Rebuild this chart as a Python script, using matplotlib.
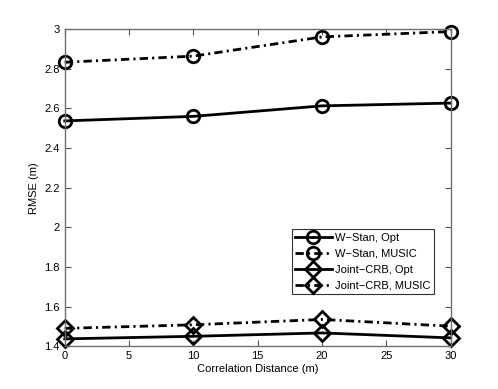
import matplotlib
matplotlib.use("Agg")
import matplotlib.pyplot as plt
from matplotlib.lines import Line2D

plt.rcParams['font.family'] = ['Liberation Sans', 'DejaVu Sans']
plt.rcParams['lines.dashdot_pattern'] = [6, 3, 1.5, 3]
plt.rcParams['lines.scale_dashes'] = False

x = [0, 10, 20, 30]
wstan_opt = [2.537, 2.560, 2.613, 2.627]
wstan_music = [2.833, 2.864, 2.961, 2.988]
joint_opt = [1.437, 1.450, 1.467, 1.442]
joint_music = [1.490, 1.508, 1.535, 1.501]
labels = ['W\u2212Stan, Opt', 'W\u2212Stan, MUSIC', 'Joint\u2212CRB, Opt', 'Joint\u2212CRB, MUSIC']

fig = plt.figure(figsize=(4.98, 3.89), dpi=100)
ax = fig.add_axes([0.13, 0.11, 0.775, 0.815])

kw = dict(color='black', linewidth=2, markerfacecolor='none', markeredgewidth=2)
series = [(wstan_opt, '-', 'o', 9), (wstan_music, '-.', 'o', 9),
          (joint_opt, '-', 'D', 8), (joint_music, '-.', 'D', 8)]
handles = []
for (ys, ls, mk, ms), lab in zip(series, labels):
    ax.plot(x, ys, linestyle=ls, marker=mk, markersize=ms, clip_on=False, **kw)
    handles.append(Line2D([], [], linestyle=ls, marker=mk, markersize=ms, **kw))

ax.set_xlim(0, 30)
ax.set_ylim(1.4, 3.0)
ax.set_xticks([0, 5, 10, 15, 20, 25, 30])
ax.set_yticks([1.4, 1.6, 1.8, 2.0, 2.2, 2.4, 2.6, 2.8, 3.0])
ax.set_yticklabels(['1.4', '1.6', '1.8', '2', '2.2', '2.4', '2.6', '2.8', '3'])
ax.tick_params(direction='in', top=True, right=True, labelsize=8, length=4, color='#555555')
for s in ax.spines.values():
    s.set_color('#6e6e6e')
    s.set_linewidth(1.0)
ax.set_xlabel('Correlation Distance (m)', fontsize=8, labelpad=2)
ax.set_ylabel('RMSE (m)', fontsize=8)

leg = ax.legend(handles, labels, loc='upper left', bbox_to_anchor=(0.588, 0.369), fontsize=8,
                frameon=True, fancybox=False, edgecolor='black', handlelength=3.3, borderpad=0.3,
                labelspacing=0.55, handletextpad=0.3, borderaxespad=0, alignment='left')
leg.get_frame().set_linewidth(0.8)

fig.savefig('out.png', dpi=100)
